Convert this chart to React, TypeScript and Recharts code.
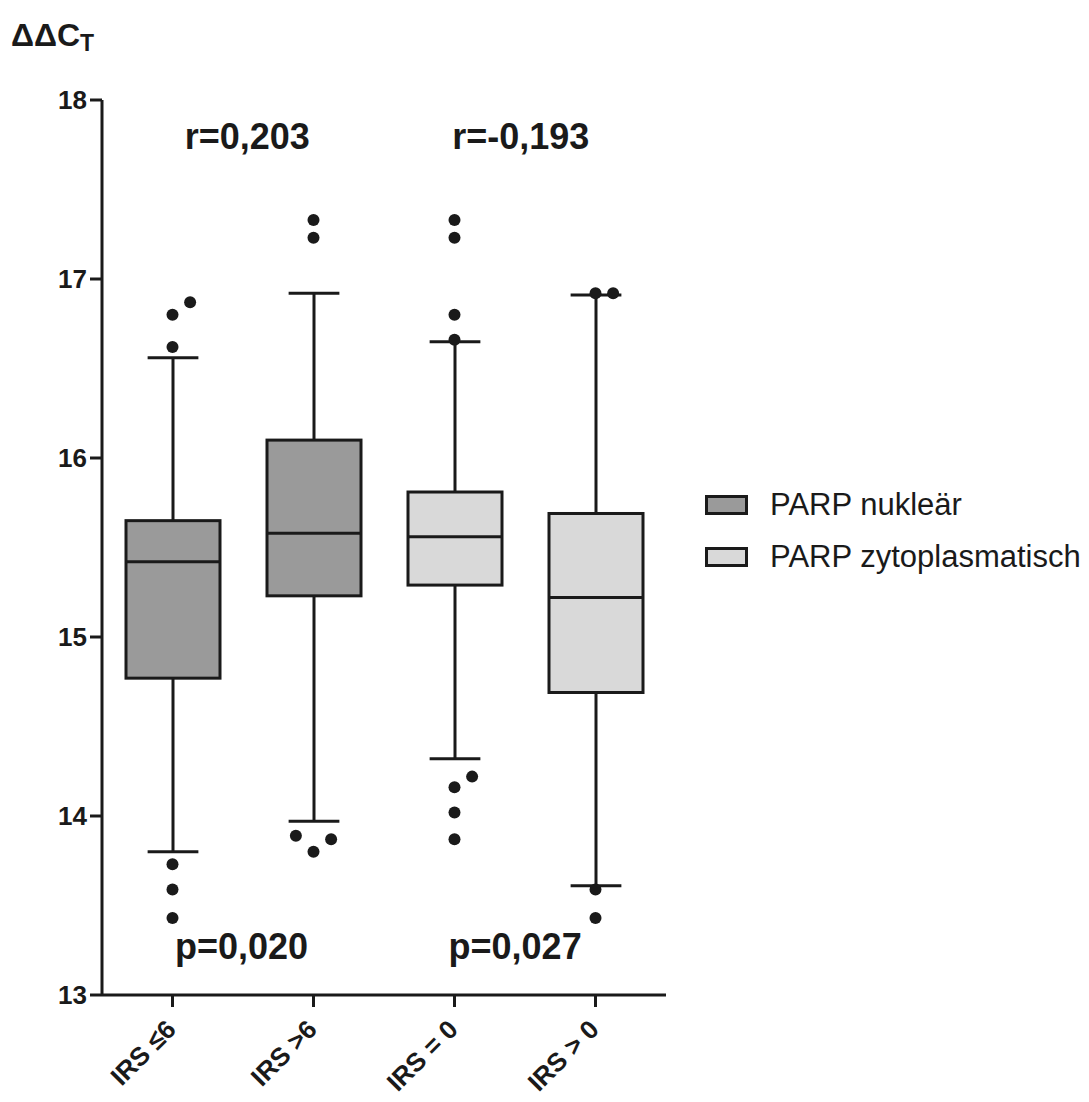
import React from "react";
import {
  Bar,
  ComposedChart,
  Legend,
  ReferenceDot,
  Scatter,
  XAxis,
  YAxis,
} from "recharts";

const CATEGORIES = ["IRS \u22646", "IRS >6", "IRS = 0", "IRS > 0"];
const GROUPS = ["nuk", "nuk", "zyt", "zyt"];
const WHISKER_LOW = [13.8, 13.97, 14.32, 13.61];
const Q1 = [14.77, 15.23, 15.29, 14.69];
const MEDIAN = [15.42, 15.58, 15.56, 15.22];
const Q3 = [15.65, 16.1, 15.81, 15.69];
const WHISKER_HIGH = [16.56, 16.92, 16.65, 16.91];
const OUTLIERS = [
  [16.62, 16.8, 16.87, 13.73, 13.59, 13.43],
  [17.33, 17.23, 13.89, 13.8, 13.87],
  [17.33, 17.23, 16.8, 16.66, 14.22, 14.16, 14.02, 13.87],
  [16.92, 16.92, 13.59, 13.43],
];

const LEGEND_LABELS = ["PARP nukle\u00e4r", "PARP zytoplasmatisch"];
const LEGEND_KEYS = ["nuk", "zyt"];

const Y_TICKS = [13, 14, 15, 16, 17, 18];

const ANNOTATIONS = [
  { text: "r=0,203", x: 1.03, y: 17.8 },
  { text: "r=-0,193", x: 2.97, y: 17.8 },
  { text: "p=0,020", x: 0.99, y: 13.27 },
  { text: "p=0,027", x: 2.93, y: 13.27 },
];

const FILL: Record<string, string> = { nuk: "#9a9a9a", zyt: "#d9d9d9" };
const INK = "#1a1a1a";
const FONT = "'Liberation Sans', Arial, Helvetica, sans-serif";

const data = CATEGORIES.map((cat, i) => ({
  cat,
  group: GROUPS[i],
  lo: WHISKER_LOW[i],
  q1: Q1[i],
  med: MEDIAN[i],
  q3: Q3[i],
  hi: WHISKER_HIGH[i],
}));

// spread outliers that would overlap sideways, like Prism does
const DODGE_STEP = 0.125;
const NEAR = 0.095;
const outlierPoints = OUTLIERS.flatMap((vals, i) => {
  const placed: { v: number; slot: number }[] = [];
  [...vals]
    .sort((a, b) => a - b)
    .forEach((v) => {
      const taken = placed.filter((p) => Math.abs(p.v - v) < NEAR).map((p) => p.slot);
      const slot = [0, 1, -1, 2, -2].find((s) => !taken.includes(s)) ?? 0;
      placed.push({ v, slot });
    });
  return placed.map((p) => ({ x: i + 0.5 + p.slot * DODGE_STEP, v: p.v }));
});

function BoxShape(props: any) {
  const { x, y, width, height, payload } = props;
  const top = Math.min(y, y + height);
  const h = Math.abs(height);
  const span = payload.hi - payload.lo;
  const py = (v: number) => top + (h * (payload.hi - v)) / span;
  const cx = x + width / 2;
  const cap = width * 0.27;
  return (
    <g>
      <line x1={cx} x2={cx} y1={py(payload.hi)} y2={py(payload.lo)} stroke={INK} strokeWidth={3} />
      <line x1={cx - cap} x2={cx + cap} y1={py(payload.hi)} y2={py(payload.hi)} stroke={INK} strokeWidth={3} />
      <line x1={cx - cap} x2={cx + cap} y1={py(payload.lo)} y2={py(payload.lo)} stroke={INK} strokeWidth={3} />
      <rect
        x={x}
        y={py(payload.q3)}
        width={width}
        height={py(payload.q1) - py(payload.q3)}
        fill={FILL[payload.group]}
        stroke={INK}
        strokeWidth={3}
      />
      <line x1={x} x2={x + width} y1={py(payload.med)} y2={py(payload.med)} stroke={INK} strokeWidth={3} />
    </g>
  );
}

function XTick({ x, y, payload }: any) {
  const tx = x + 5;
  const ty = y + 24;
  return (
    <text
      x={tx}
      y={ty}
      transform={`rotate(-45 ${tx} ${ty})`}
      textAnchor="end"
      fontFamily={FONT}
      fontWeight="bold"
      fontSize={26}
      fill={INK}
    >
      {payload.value}
    </text>
  );
}

function LegendBox() {
  return (
    <div style={{ fontFamily: FONT, fontSize: 31, color: INK }}>
      {LEGEND_LABELS.map((label, i) => (
        <div key={label} style={{ display: "flex", alignItems: "center", height: 52 }}>
          <div
            style={{
              width: 37,
              height: 14,
              border: `3px solid ${INK}`,
              background: FILL[LEGEND_KEYS[i]],
              marginRight: 22,
            }}
          />
          <span>{label}</span>
        </div>
      ))}
    </div>
  );
}

export default function App() {
  return (
    <div style={{ position: "absolute", left: 0, top: 0, width: 1089, height: 1102, background: "#fff" }}>
      <ComposedChart
        width={1089}
        height={1102}
        data={data}
        margin={{ top: 100, right: 423, bottom: 47, left: 0 }}
        barSize={94}
      >
        <XAxis
          dataKey="cat"
          height={60}
          interval={0}
          tickSize={12}
          tickMargin={0}
          axisLine={{ stroke: INK, strokeWidth: 3 }}
          tickLine={{ stroke: INK, strokeWidth: 3 }}
          tick={<XTick />}
        />
        <XAxis xAxisId="num" dataKey="x" type="number" domain={[0, 4]} hide allowDataOverflow />
        <YAxis
          width={102}
          domain={[13, 18]}
          ticks={Y_TICKS}
          interval={0}
          allowDataOverflow
          tickSize={12}
          tickMargin={3}
          axisLine={{ stroke: INK, strokeWidth: 3 }}
          tickLine={{ stroke: INK, strokeWidth: 3 }}
          tick={{ fontFamily: FONT, fontWeight: "bold", fontSize: 26, fill: INK }}
          label={{
            content: () => (
              <text x={11} y={46} fontFamily={FONT} fontWeight="bold" fontSize={32} fill={INK}>
                {"\u0394\u0394C"}
                <tspan fontSize={23} dy={5}>
                  T
                </tspan>
              </text>
            ),
          }}
        />
        <Bar dataKey={(d: any) => [d.lo, d.hi]} shape={<BoxShape />} isAnimationActive={false} />
        <Scatter
          xAxisId="num"
          data={outlierPoints}
          dataKey="v"
          isAnimationActive={false}
          shape={(p: any) => <circle cx={p.cx} cy={p.cy} r={6} fill={INK} />}
        />
        {ANNOTATIONS.map((a) => (
          <ReferenceDot
            key={a.text}
            xAxisId="num"
            x={a.x}
            y={a.y}
            r={0}
            stroke="none"
            fill="none"
            label={{
              value: a.text,
              position: "center",
              fontFamily: FONT,
              fontWeight: "bold",
              fontSize: 36,
              fill: INK,
            }}
          />
        ))}
        <Legend
          layout="vertical"
          align="center"
          verticalAlign="middle"
          content={() => <LegendBox />}
          wrapperStyle={{ left: 705, top: 479, width: "auto" }}
        />
      </ComposedChart>
    </div>
  );
}
